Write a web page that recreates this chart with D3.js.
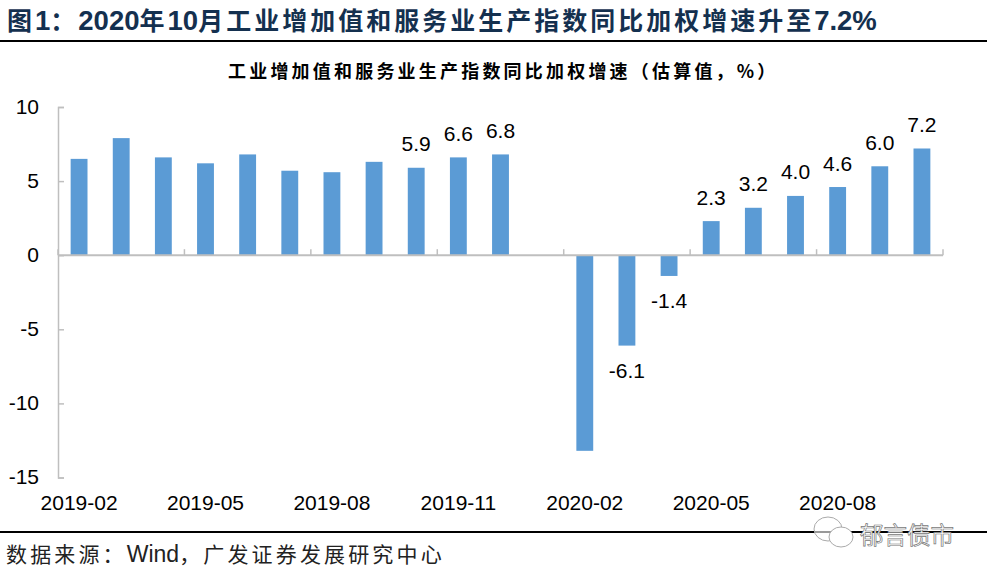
<!DOCTYPE html>
<html><head><meta charset="utf-8">
<script src="https://cdn.jsdelivr.net/npm/d3@7"></script>
<style>html,body{margin:0;padding:0;background:#fff}svg{display:block}</style></head>
<body><svg id="c" width="987" height="577"></svg>
<script>
const months=["2019-02","2019-03","2019-04","2019-05","2019-06","2019-07","2019-08","2019-09","2019-10","2019-11","2019-12","2020-01","2020-02","2020-03","2020-04","2020-05","2020-06","2020-07","2020-08","2020-09","2020-10"];
const values=[6.5,7.9,6.6,6.2,6.8,5.7,5.6,6.3,5.9,6.6,6.8,null,-13.2,-6.1,-1.4,2.3,3.2,4.0,4.6,6.0,7.2];
const labelled=["2019-10","2019-11","2019-12","2020-03","2020-04","2020-05","2020-06","2020-07","2020-08","2020-09","2020-10"];
const xTicks=["2019-02","2019-05","2019-08","2019-11","2020-02","2020-05","2020-08"];
const yTicks=[10,5,0,-5,-10,-15];
const titleText="图1：2020年10月工业增加值和服务业生产指数同比加权增速升至7.2%";
const subtitleText="工业增加值和服务业生产指数同比加权增速（估算值，%）";
const sourceText="数据来源：Wind，广发证券发展研究中心";
const watermarkText="郁言债市";

const LAT='"Liberation Sans",Arial,sans-serif', CJK='"Noto Sans CJK SC",sans-serif';
const svg=d3.select("#c");
const x=d3.scaleBand().domain(months).range([58,943]).paddingInner(0.6).paddingOuter(0.3);
const y=d3.scaleLinear().domain([-15,10]).range([477.5,107]);
const grey="#bfbfbf";

// mixed Latin / CJK text: each run styled separately, all one text element
function mixed(sel,text,latSize,cjkSize,cjkSpacing,latSpacing){
  text.split(/([0-9A-Za-z.%]+)/).filter(s=>s).forEach(s=>{
    const isLat=/^[0-9A-Za-z.%]+$/.test(s);
    sel.append("tspan").attr("font-family",isLat?LAT:CJK).attr("font-size",isLat?latSize:cjkSize)
      .attr("letter-spacing",isLat?latSpacing:cjkSpacing).text(s);
  });
  return sel;
}

// header + footer rules
mixed(svg.append("text").attr("x",7).attr("y",30).attr("fill","#14304f").attr("font-weight",700),titleText,27.5,25,3,0);
svg.append("line").attr("x1",0).attr("x2",987).attr("y1",41).attr("y2",41).attr("stroke","#000").attr("stroke-width",2);
svg.append("line").attr("x1",0).attr("x2",987).attr("y1",532).attr("y2",532).attr("stroke","#000").attr("stroke-width",2);
svg.append("text").attr("x",228).attr("y",78).attr("fill","#000").attr("font-family",CJK).attr("font-weight",700).attr("font-size",18).attr("letter-spacing",3.2).text(subtitleText);
mixed(svg.append("text").attr("x",6).attr("y",562).attr("fill","#222"),sourceText,23,21,3.15,0);

// bars
svg.append("g").selectAll("rect").data(months.map((m,i)=>({m,v:values[i]})).filter(d=>d.v!==null)).join("rect")
 .attr("x",d=>x(d.m)).attr("width",x.bandwidth())
 .attr("y",d=>Math.min(y(d.v),y(0))).attr("height",d=>Math.abs(y(d.v)-y(0)))
 .attr("fill","#5b9bd5");

// y axis
const gy=svg.append("g").attr("transform","translate(58,0)").call(d3.axisRight(y).tickValues(yTicks).tickSize(6).tickFormat(""));
gy.selectAll("path,line").attr("stroke",grey).attr("stroke-width",1.5);
svg.append("g").selectAll("text").data(yTicks).join("text").attr("x",39).attr("y",d=>y(d)+6.5).attr("text-anchor","end")
 .attr("font-family",LAT).attr("font-size",21).attr("fill","#000").text(d=>d);

// x axis at zero: ticks every third month, pointing up
const edges=xTicks.map(m=>x(m)-x.step()*x.paddingInner()/2).concat(x.range()[1]);
svg.append("line").attr("x1",58).attr("x2",943).attr("y1",y(0)).attr("y2",y(0)).attr("stroke",grey).attr("stroke-width",2);
svg.append("g").selectAll("line").data(edges).join("line").attr("x1",d=>d).attr("x2",d=>d).attr("y1",y(0)).attr("y2",y(0)-6).attr("stroke",grey).attr("stroke-width",1.5);
svg.append("g").selectAll("text").data(xTicks).join("text").attr("x",d=>x(d)+x.bandwidth()/2).attr("y",510).attr("text-anchor","middle")
 .attr("font-family",LAT).attr("font-size",21).attr("fill","#000").text(d=>d);

// value labels
svg.append("g").selectAll("text").data(labelled).join("text")
 .attr("x",d=>x(d)+x.bandwidth()/2)
 .attr("y",d=>{const v=values[months.indexOf(d)];return v>=0?y(v)-16.5:y(v)+32;})
 .attr("text-anchor","middle").attr("font-family",LAT).attr("font-size",21).attr("fill","#000")
 .text(d=>values[months.indexOf(d)].toFixed(1));

// watermark
const wm=svg.append("g").attr("fill","#fff").attr("stroke","#aaa").attr("stroke-width",1);
wm.append("ellipse").attr("cx",828).attr("cy",529).attr("rx",14).attr("ry",12).attr("fill-opacity",.6);
wm.append("ellipse").attr("cx",841).attr("cy",537).attr("rx",12).attr("ry",10);
svg.append("text").attr("x",860).attr("y",544).attr("fill","#fff").attr("stroke","#777").attr("stroke-width",.7).attr("font-family",CJK).attr("font-size",23.5).text(watermarkText);
</script></body></html>
